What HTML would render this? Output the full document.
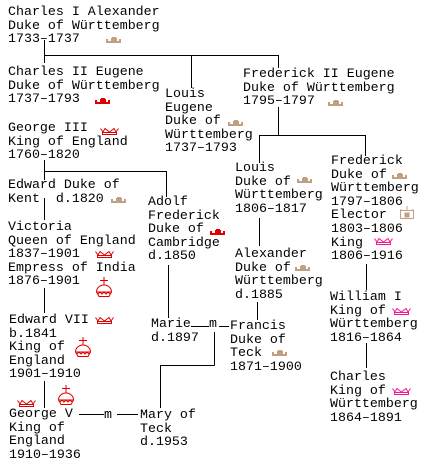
<!DOCTYPE html>
<html><head><meta charset="utf-8"><style>
html,body{margin:0;padding:0;background:#fff}
body{width:424px;height:473px;position:relative;overflow:hidden}
.t{position:absolute;font-family:"Liberation Mono","DejaVu Sans Mono",monospace;font-size:13.3px;line-height:13.6px;color:#000;white-space:pre}
svg{position:absolute;left:0;top:0}
</style></head><body>
<svg width="424" height="473" viewBox="0 0 424 473">
<defs>
<g id="cor"><rect x="0" y="4" width="15" height="2"/><rect x="0" y="2" width="2" height="2"/><rect x="13" y="2" width="2" height="2"/><rect x="6" y="0" width="4" height="4"/><rect x="5" y="1" width="6" height="3"/></g>
<g id="crn" fill="none" stroke-width="1"><polyline points="0.5,0.5 3,4 5,0.5 9.5,4 14,0.5 16,4 18.5,0.5"/><rect x="2.5" y="4.5" width="14" height="2"/></g>
<g id="orb" fill="none" stroke-width="1"><line x1="10" y1="0" x2="10" y2="8"/><line x1="6" y1="3.5" x2="14" y2="3.5"/><path d="M2.5,15 A7.5,7 0 0 1 17.5,15 Z"/><path d="M2.5,15 L5,19.5 L15,19.5 L17.5,15"/><path d="M4,17 l2,-2 2,2 2,-2 2,2 2,-2 2,2"/></g>
<g id="elec" fill="none" stroke="#c0a080"><rect x="0.5" y="4.5" width="13" height="8"/><line x1="7" y1="0" x2="7" y2="4"/><rect x="5" y="7" width="4" height="4" fill="#c0a080"/><line x1="1" y1="3" x2="1" y2="4"/><line x1="13" y1="3" x2="13" y2="4"/></g>
</defs>
<g stroke="#000" stroke-width="1" fill="none" shape-rendering="crispEdges">
<path d="M44.5,40V63M44.5,55.5H278.5M278.5,55V68M191.5,55V88"/>
<path d="M278.5,107V135.5M259.5,135.5H365.5M259.5,135V163M365.5,135V156"/>
<path d="M259.5,218V246M257.5,302V320M366.5,264V290M366.5,343V368"/>
<path d="M44.5,160V180M44.5,171.5H166.5M166.5,171V197"/>
<path d="M44.5,198V220M168.5,265V318M44.5,288V313M44.5,381V408"/>
<path d="M191,326.5H209M219,326.5H229M214.5,332V365.5M160.5,365.5H214.5M160.5,365V408"/>
<path d="M79,414.5H104M117,414.5H138"/>
</g>
<g fill="#c0a080">
<use href="#cor" x="106" y="37"/><use href="#cor" x="111" y="197"/><use href="#cor" x="228" y="120"/>
<use href="#cor" x="328" y="100"/><use href="#cor" x="297" y="177"/><use href="#cor" x="392" y="173"/>
<use href="#cor" x="295" y="265"/><use href="#cor" x="272" y="350"/>
</g>
<g fill="#e00000"><use href="#cor" x="95" y="98"/><use href="#cor" x="210" y="229"/></g>
<g stroke="#e00000">
<use href="#crn" x="100" y="128"/><use href="#crn" x="95" y="251"/><use href="#crn" x="95" y="317"/><use href="#crn" x="17" y="400"/>
<use href="#orb" x="94" y="277"/><use href="#orb" x="73" y="337"/><use href="#orb" x="56" y="385"/>
</g>
<g stroke="#ff1493"><use href="#crn" x="374" y="238"/><use href="#crn" x="392" y="308"/><use href="#crn" x="392" y="388"/></g>
<use href="#elec" x="400" y="206"/>
</svg>
<div class="t" style="left:8px;top:5px">Charles I Alexander
Duke of Württemberg
1733–1737</div>
<div class="t" style="left:8px;top:65px">Charles II Eugene
Duke of Württemberg
1737–1793</div>
<div class="t" style="left:165px;top:87px">Louis
Eugene
Duke of
Württemberg
1737–1793</div>
<div class="t" style="left:243px;top:67px">Frederick II Eugene
Duke of Württemberg
1795–1797</div>
<div class="t" style="left:8px;top:121px">George III
King of England
1760–1820</div>
<div class="t" style="left:8px;top:178px">Edward Duke of
Kent  d.1820</div>
<div class="t" style="left:148px;top:195px">Adolf
Frederick
Duke of
Cambridge
d.1850</div>
<div class="t" style="left:8px;top:220px">Victoria
Queen of England
1837–1901
Empress of India
1876–1901</div>
<div class="t" style="left:9px;top:313px">Edward VII
b.1841
King of
England
1901–1910</div>
<div class="t" style="left:9px;top:407px">George V
King of
England
1910–1936</div>
<div class="t" style="left:140px;top:408px">Mary of
Teck
d.1953</div>
<div class="t" style="left:151px;top:317px">Marie
d.1897</div>
<div class="t" style="left:209px;top:317px">m</div>
<div class="t" style="left:104px;top:408px">m</div>
<div class="t" style="left:230px;top:319px">Francis
Duke of
Teck
1871–1900</div>
<div class="t" style="left:235px;top:161px">Louis
Duke of
Württemberg
1806–1817</div>
<div class="t" style="left:235px;top:247px">Alexander
Duke of
Württemberg
d.1885</div>
<div class="t" style="left:331px;top:154px">Frederick
Duke of
Württemberg
1797–1806
Elector
1803–1806
King
1806–1916</div>
<div class="t" style="left:330px;top:290px">William I
King of
Württemberg
1816–1864</div>
<div class="t" style="left:330px;top:370px">Charles
King of
Württemberg
1864–1891</div>
</body></html>
